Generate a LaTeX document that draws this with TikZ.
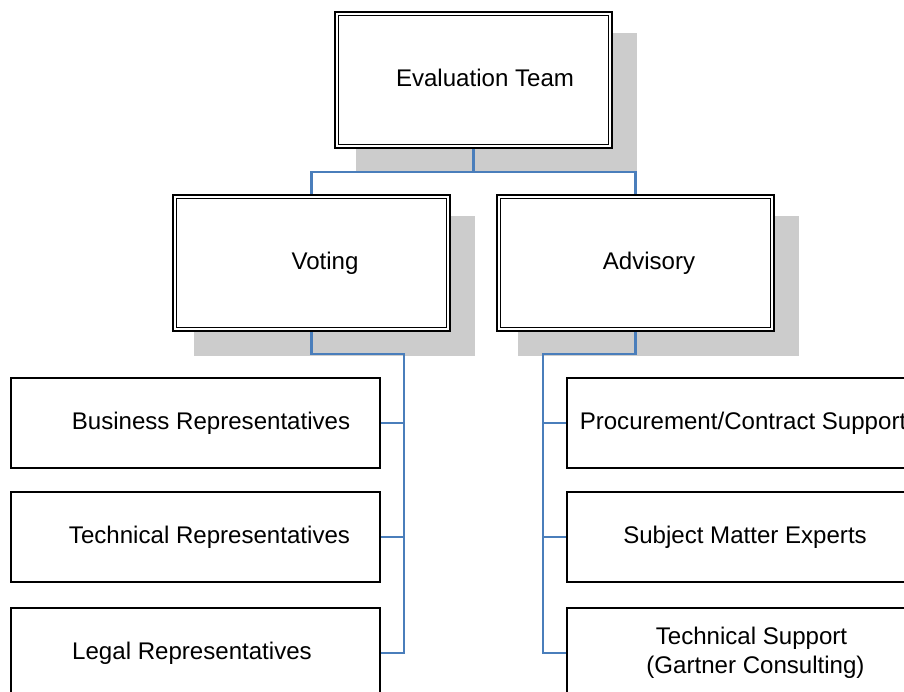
\documentclass[tikz,border=0pt]{standalone}
\usepackage{fontspec}
\setsansfont{Liberation Sans}
\usetikzlibrary{backgrounds}
\definecolor{EvalInk}{HTML}{000000}
\definecolor{EvalLink}{HTML}{4A7EBB}
\definecolor{EvalShadow}{HTML}{CCCCCC}
\tikzset{
  eval text/.style={font=\sffamily\fontsize{13.7}{16.4}\selectfont, text=EvalInk, text height=.82em, text depth=.06em},
  eval group/.style={eval text, draw=EvalInk, fill=white, line width=.9pt, double=white, double distance=1.3pt,
    minimum width=5.47cm, minimum height=2.65cm, inner sep=0pt},
  eval member/.style={eval text, draw=EvalInk, fill=white, line width=1.05pt,
    minimum width=7.39cm, minimum height=1.81cm, inner sep=0pt},
  eval link/.style={draw=EvalLink, line width=1.4pt},
  eval shadow/.style={fill=EvalShadow},
  eval nudge/.style={execute at begin node={\hspace*{#1}}},
}

\begin{document}
\begin{tikzpicture}[x=1cm,y=1cm]
  \useasboundingbox (0,0) rectangle (18.08,13.84);

  % Top of the tree and its two groups (double frames, offset grey shadow).
  \node[eval group, eval nudge=.46cm] (team) at (9.47,12.24) {Evaluation Team};
  \node[eval group, eval nudge=.54cm] (voting) at (6.23,8.58) {Voting};
  \node[eval group, eval nudge=.54cm] (advisory) at (12.71,8.58) {Advisory};

  % Voting members, stacked on the left.
  \node[eval member, eval nudge=.62cm] (business) at (3.91,5.38) {Business Representatives};
  \node[eval member, eval nudge=.56cm] (technical) at (3.91,3.10) {Technical Representatives};
  \node[eval member, eval nudge=-.14cm] (legal) at (3.91,.78) {Legal Representatives};

  % Advisory members, running off the right edge.
  \node[eval member, eval nudge=-.34cm] (procure) at (15.03,5.38) {Procurement/Contract Support};
  \node[eval member, eval nudge=-.26cm] (experts) at (15.03,3.10) {Subject Matter Experts};
  \node[eval member, align=center, text height=, text depth=] (support) at (15.03,.78)
    {Technical Support\\\hspace*{.16cm}(Gartner Consulting)};

  \coordinate (teambus) at (9.47,10.40);
  \coordinate (votebus) at (8.08,6.76);
  \coordinate (advbus) at (10.86,6.76);

  \begin{scope}[on background layer]
    % Shadows sit under the links.
    \foreach \g in {team,voting,advisory}
      \fill[eval shadow] ([xshift=.41cm,yshift=-.51cm]\g.south west) rectangle ([xshift=.51cm,yshift=-.41cm]\g.north east);

    \draw[eval link] (team.south) -- (teambus);
    \draw[eval link] (voting.north) |- (teambus) -| (advisory.north);

    \draw[eval link] (voting.south) |- (votebus) |- (legal.east);
    \foreach \m in {business,technical}
      \draw[eval link] (votebus |- \m.east) -- (\m.east);

    \draw[eval link] (advisory.south) |- (advbus) |- (support.west);
    \foreach \m in {procure,experts}
      \draw[eval link] (advbus |- \m.west) -- (\m.west);
  \end{scope}
\end{tikzpicture}
\end{document}
